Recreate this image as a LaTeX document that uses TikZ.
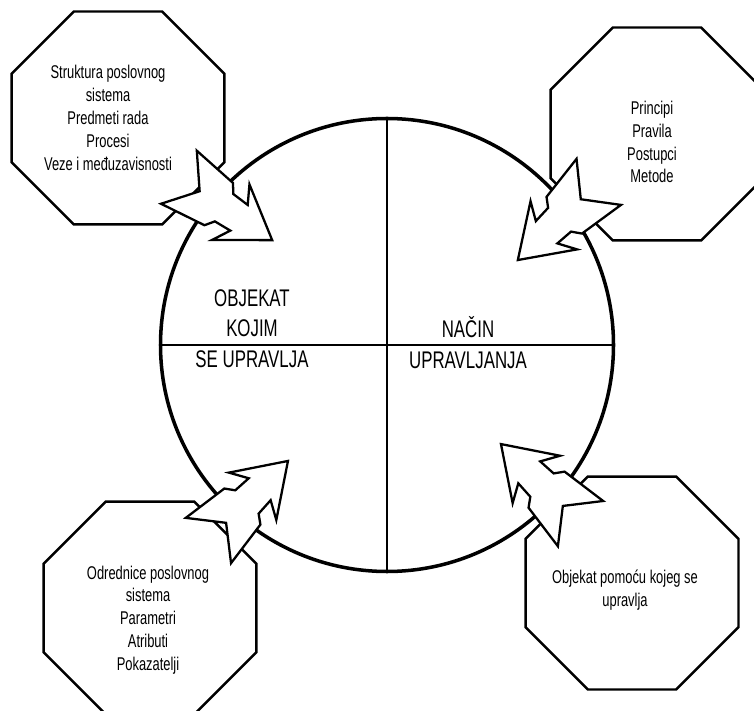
\documentclass[tikz,border=0pt]{standalone}
\usepackage{fontspec}
\setmainfont{Liberation Sans}[FakeStretch=0.70]
\usepackage{tikz}
\usetikzlibrary{shapes.geometric}
\usetikzlibrary{calc}

\tikzset{
	octagon/.style={draw, line width=1.4pt, regular polygon, regular polygon sides=8, minimum size=4.61cm, inner sep=0pt},
	octtext/.style={align=center, font=\fontsize{10.5}{13}\selectfont},
	bigtext/.style={align=center, font=\fontsize{13.7}{17.3}\selectfont},
	divider/.style={line width=0.9pt},
	arrowbody/.style={draw, fill=white, line width=1.3pt, line join=miter},
	pointer/.pic={
		\path[arrowbody] (0,0) -- (-1.00,0.67) -- (-0.80,0.31) -- (-1.16,0.33) -- (-1.29,0.51)
		-- (-2.25,0.64) -- (-1.75,0.00) -- (-2.25,-0.64) -- (-1.29,-0.51) -- (-1.16,-0.33)
		-- (-0.80,-0.31) -- (-1.00,-0.67) -- cycle;
	}
}

\begin{document}
\begin{tikzpicture}
	
	% ---------------------
	% Frame
	\useasboundingbox (0,0) rectangle (15.08,14.20);
	\clip (0,0) rectangle (15.08,14.20);
	
	% ---------------------
	% Octagons
	\node[octagon] (TopLeft)     at (2.36,11.84) {};
	\node[octagon] (TopRight)    at (13.14,11.52) {};
	\node[octagon] (BottomLeft)  at (3.00,2.04) {};
	\node[octagon] (BottomRight) at (12.64,2.54) {};
	
	% ---------------------
	% Circle & quadrants
	\node[draw, circle, line width=2pt, minimum size=9.06cm, inner sep=0pt, outer sep=0pt] (Circle) at (7.74,7.30) {};
	\draw[divider] (Circle.north) -- (Circle.south);
	\draw[divider] (Circle.west) -- (Circle.east);
	
	% ------------------------------------------------
	% Texts
	\node[octtext] (TopLeftText) at ($(TopLeft)+(-0.20,0.00)$)
		{Struktura poslovnog\\sistema\\Predmeti rada\\Procesi\\Veze i međuzavisnosti};
	\node[octtext] (TopRightText) at ($(TopRight)+(-0.10,-0.16)$)
		{Principi\\Pravila\\Postupci\\Metode};
	\node[octtext] (BottomLeftText) at ($(BottomLeft)+(-0.04,-0.24)$)
		{Odrednice poslovnog\\sistema\\Parametri\\Atributi\\Pokazatelji};
	\node[octtext] (BottomRightText) at ($(BottomRight)+(-0.14,-0.14)$)
		{Objekat pomoću kojeg se\\upravlja};
	
	\node[bigtext] (Object) at (5.04,7.63) {OBJEKAT\\KOJIM\\SE UPRAVLJA};
	\node[bigtext] (Manner) at (9.36,7.35) {NAČIN\\UPRAVLJANJA};
	
	% ------------------------------------------------
	% Arrows
	\path (Circle.center) +(137.6:3.11) coordinate (TipTopLeft);
	\path (Circle.center) +(33.0:3.12)  coordinate (TipTopRight);
	\path (Circle.center) +(229.5:3.05) coordinate (TipBottomLeft);
	\path (Circle.center) +(-41.0:3.02) coordinate (TipBottomRight);
	
	\pic[rotate=-34] at (TipTopLeft)     {pointer};
	\pic[rotate=224] at (TipTopRight)    {pointer};
	\pic[rotate=45]  at (TipBottomLeft)  {pointer};
	\pic[rotate=135] at (TipBottomRight) {pointer};
	
\end{tikzpicture}
\end{document}
